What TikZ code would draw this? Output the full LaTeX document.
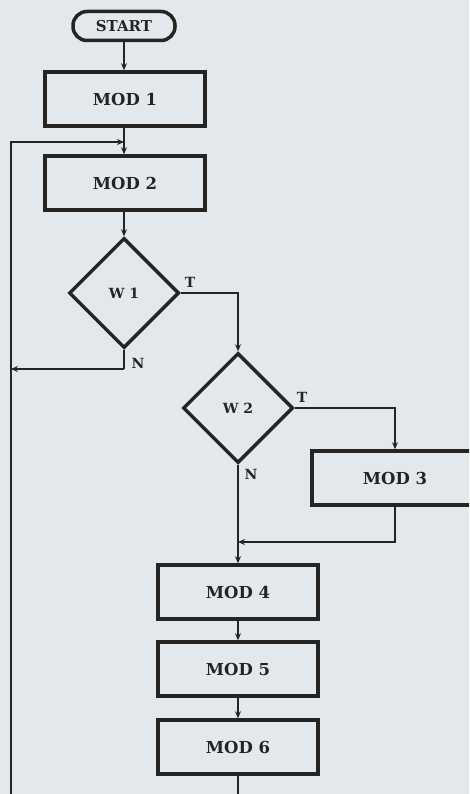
\documentclass[tikz,border=0pt]{standalone}
\usepackage{fontspec}
\setmainfont{DejaVu Serif}
\usetikzlibrary{shapes.geometric,arrows.meta}
\definecolor{paper}{RGB}{226,232,235}
\definecolor{ink}{RGB}{38,36,34}
\tikzset{
  modbox/.style={draw=ink, line width=3.5pt, fill=paper, minimum width=160pt, minimum height=54pt, inner sep=0pt, font=\fontsize{16.5}{19}\selectfont\bfseries, text=ink},
  startbox/.style={draw=ink, line width=3.5pt, fill=paper, rounded corners=14pt, minimum width=102pt, minimum height=29pt, inner sep=0pt, font=\fontsize{15}{17}\selectfont\bfseries, text=ink},
  decbox/.style={draw=ink, line width=3.5pt, fill=paper, diamond, aspect=1, minimum size=110pt, inner sep=0pt, font=\fontsize{14}{16}\selectfont\bfseries, text=ink},
  conn/.style={draw=ink, line width=2.3pt},
  arr/.style={conn, -{Stealth[length=7pt,width=6pt]}},
  lbl/.style={font=\fontsize{14}{16}\selectfont\bfseries, text=ink, inner sep=0pt}
}
\begin{document}
\begin{tikzpicture}[x=1pt,y=-1pt]
\useasboundingbox (0,0) rectangle (469,794);
\clip (0,0) rectangle (469,794);
\fill[paper] (-5,-5) rectangle (480,800);
% nodes
\node[startbox] (start) at (124,26) {START};
\node[modbox] (mod1) at (125,99) {MOD 1};
\node[modbox] (mod2) at (125,183) {MOD 2};
\node[decbox] (w1) at (124,293) {W 1};
\node[decbox] (w2) at (238,408) {W 2};
\node[modbox, minimum width=166pt] (mod3) at (395,478) {MOD 3};
\node[modbox] (mod4) at (238,592) {MOD 4};
\node[modbox] (mod5) at (238,669) {MOD 5};
\node[modbox] (mod6) at (238,747) {MOD 6};
% junction coordinates
\coordinate (j1) at (124,142);
\coordinate (loopbot) at (11,800);
\coordinate (w1n) at (124,369);
\coordinate (leftw1) at (11,369);
\coordinate (j2) at (238,542);
\coordinate (bot) at (238,800);
% connectors
\draw[arr] (start.south) -- (start.south |- mod1.north);
\draw[conn] (mod1.south -| j1) -- (j1);
\draw[arr] (j1) -- (j1 |- mod2.north);
\draw[arr] (loopbot) -- (loopbot |- j1) -- (j1);
\draw[arr] (mod2.south -| w1) -- (w1.north);
\draw[conn] (w1.south) -- (w1n);
\draw[arr] (w1n) -- (leftw1);
\draw[arr] (w1.east) -| (w2.north);
\draw[arr] (w2.east) -| (mod3.north);
\draw[arr] (mod3.south) |- (j2);
\draw[arr] (w2.south) -- (mod4.north);
\draw[arr] (mod4.south) -- (mod5.north);
\draw[arr] (mod5.south) -- (mod6.north);
\draw[conn] (mod6.south) -- (bot);
% labels
\node[lbl] (t1) at (190,282) {T};
\node[lbl] (n1) at (138,363) {N};
\node[lbl] (t2) at (302,397) {T};
\node[lbl] (n2) at (251,474) {N};
\end{tikzpicture}
\end{document}
